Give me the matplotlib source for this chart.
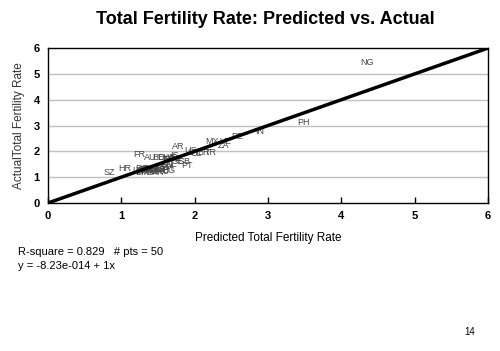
import numpy as np
import matplotlib
matplotlib.use('Agg')
import matplotlib.pyplot as plt

plt.rcParams['font.family'] = ['Liberation Sans', 'DejaVu Sans']

# country codes with predicted (x) and actual (y) total fertility rate
codes = ['NG', 'PH', 'IN', 'PE', 'MX', 'VE', 'ZA', 'TR', 'BR', 'UY',
         'CL', 'US', 'AR', 'FR', 'AU', 'BE', 'DK', 'NO', 'IE', 'NZ',
         'SE', 'GB', 'PT', 'FI', 'HR', 'SZ', 'LT', 'CZ', 'DE', 'IT',
         'ES', 'JP', 'HU', 'SK', 'RU', 'BG', 'UA', 'LV', 'RO', 'AT',
         'CH', 'NL', 'CA', 'EE', 'BY', 'SI', 'KR', 'MD', 'GE', 'IS']
predicted = [4.35, 3.49, 2.89, 2.58, 2.24, 2.42, 2.39, 2.22, 2.12, 1.98,
             2.02, 1.95, 1.77, 1.25, 1.40, 1.50, 1.58, 1.65, 1.70, 1.75,
             1.77, 1.86, 1.90, 1.62, 1.05, 0.84, 1.26, 1.30, 1.38, 1.45,
             1.52, 1.60, 1.40, 1.48, 1.56, 1.64, 1.33, 1.22, 1.28, 1.55,
             1.62, 1.68, 1.60, 1.35, 1.42, 1.25, 1.50, 1.36, 1.46, 1.72]
actual = [5.46, 3.10, 2.75, 2.56, 2.40, 2.40, 2.22, 1.95, 1.95, 1.95,
          1.93, 2.05, 2.20, 1.87, 1.76, 1.76, 1.76, 1.74, 1.78, 1.72,
          1.62, 1.62, 1.45, 1.70, 1.35, 1.20, 1.17, 1.30, 1.32, 1.30,
          1.28, 1.30, 1.22, 1.22, 1.22, 1.24, 1.25, 1.25, 1.35, 1.36,
          1.38, 1.50, 1.48, 1.28, 1.25, 1.22, 1.18, 1.18, 1.33, 1.85]

fig = plt.figure(figsize=(5, 3.51), dpi=100)
ax = fig.add_axes([0.096, 0.4217, 0.88, 0.4413])

# horizontal gridlines
for yv in range(1, 6):
    ax.axhline(yv, color='#c0c0c0', lw=1, zorder=0)

# regression line y = x
ax.plot([0, 6], [0, 6], color='black', lw=2.5, zorder=3)

for c, xv, yv in zip(codes, predicted, actual):
    ax.text(xv, yv, c, fontsize=6.5, color='#444444', ha='center', va='center', zorder=2)

ax.set_xlim(0, 6)
ax.set_ylim(0, 6)
ax.set_xticks(range(7))
ax.set_yticks(range(7))
ax.tick_params(axis='x', direction='in', length=4, width=1, labelsize=8, pad=6)
ax.tick_params(axis='y', length=0, labelsize=8, pad=6)
for lbl in ax.get_xticklabels() + ax.get_yticklabels():
    lbl.set_fontweight('bold')
for sp in ax.spines.values():
    sp.set_linewidth(1)

ax.set_xlabel('Predicted Total Fertility Rate', fontsize=8.5, labelpad=8)
ax.set_ylabel('ActualTotal Fertility Rate', fontsize=8.5, color='#333333', labelpad=6)

fig.text(0.53, 0.945, 'Total Fertility Rate: Predicted vs. Actual', fontsize=13,
         fontweight='bold', ha='center', va='center')
fig.text(0.036, 0.283, 'R-square = 0.829   # pts = 50', fontsize=8, va='center')
fig.text(0.036, 0.243, 'y = -8.23e-014 + 1x', fontsize=8, va='center')
fig.text(0.94, 0.055, '14', fontsize=7, ha='center', va='center')

plt.savefig('out.png', dpi=100)
plt.close()
